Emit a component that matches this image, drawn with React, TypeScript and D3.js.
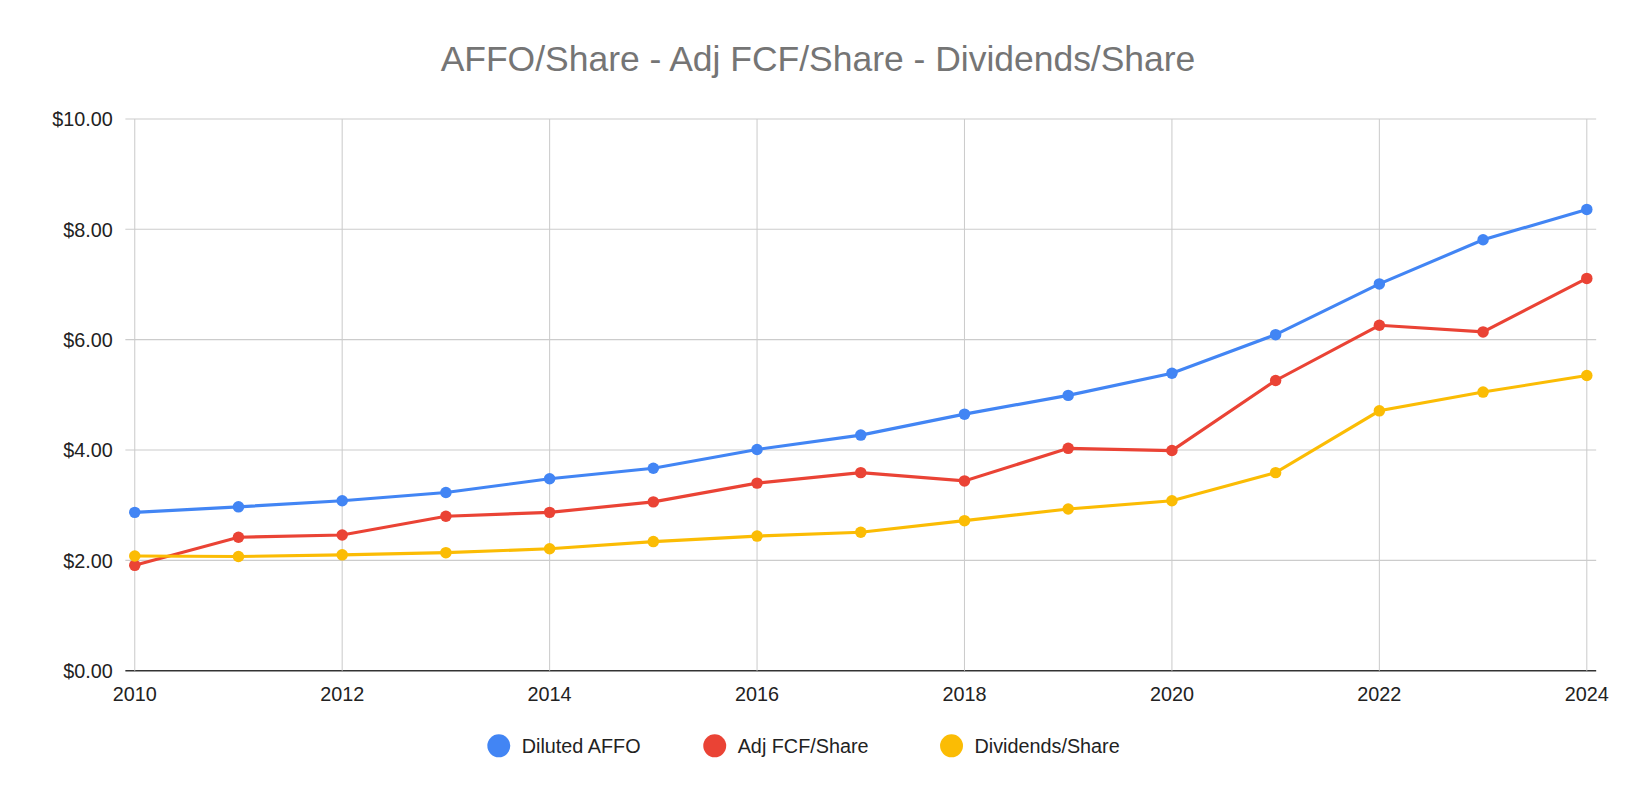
import React from 'react';
import * as d3 from 'd3';

const years = [2010, 2011, 2012, 2013, 2014, 2015, 2016, 2017, 2018, 2019, 2020, 2021, 2022, 2023, 2024];
const affo = [2.87, 2.97, 3.08, 3.23, 3.48, 3.67, 4.01, 4.27, 4.65, 4.99, 5.39, 6.09, 7.01, 7.81, 8.36];
const fcf = [1.91, 2.42, 2.46, 2.8, 2.87, 3.06, 3.4, 3.59, 3.44, 4.03, 3.99, 5.26, 6.26, 6.14, 7.11];
const divs = [2.08, 2.07, 2.1, 2.14, 2.21, 2.34, 2.44, 2.51, 2.72, 2.93, 3.08, 3.59, 4.71, 5.05, 5.35];
const yTicks = [0, 2, 4, 6, 8, 10];
const xTicks = [2010, 2012, 2014, 2016, 2018, 2020, 2022, 2024];

const series = [
  { name: 'Diluted AFFO', values: affo, color: '#4285f4' },
  { name: 'Adj FCF/Share', values: fcf, color: '#ea4335' },
  { name: 'Dividends/Share', values: divs, color: '#fbbc04' },
];

const W = 1636, H = 798;
const font = 'Arial, "Liberation Sans", sans-serif';

export default function App() {
  // layout measured on a 1568-wide copy of the reference, scaled through viewBox
  const x = d3.scaleLinear().domain([2010, 2024]).range([129, 1521]);
  const y = d3.scaleLinear().domain([0, 10]).range([643, 114]);
  const line = d3.line<number>().x((_, i) => x(years[i])).y(d => y(d));
  const legendX = [478, 685, 912];
  return (
    <svg width={W} height={H} viewBox="0 0 1568 765" style={{ position: 'absolute', left: 0, top: 0, background: '#fff' }} fontFamily={font}>
      <rect width={1568} height={765} fill="#fff" />
      <text x={784} y={68} textAnchor="middle" fontSize={34} fill="#757575">AFFO/Share - Adj FCF/Share - Dividends/Share</text>
      {yTicks.map(t => (
        <g key={t}>
          <line x1={120} x2={1530} y1={y(t)} y2={y(t)} stroke={t === 0 ? '#333' : '#cccccc'} strokeWidth={t === 0 ? 1.5 : 1} />
          <text x={108} y={y(t) + 7} textAnchor="end" fontSize={19} fill="#222">{`$${t.toFixed(2)}`}</text>
        </g>
      ))}
      {xTicks.map(t => (
        <g key={t}>
          <line x1={x(t)} x2={x(t)} y1={114} y2={643} stroke="#cccccc" />
          <text x={x(t)} y={672} textAnchor="middle" fontSize={19} fill="#222">{t}</text>
        </g>
      ))}
      {series.map(s => (
        <g key={s.name}>
          <path d={line(s.values) || ''} fill="none" stroke={s.color} strokeWidth={3} />
          {s.values.map((v, i) => (
            <circle key={i} cx={x(years[i])} cy={y(v)} r={5.5} fill={s.color} />
          ))}
        </g>
      ))}
      {series.map((s, i) => (
        <g key={s.name}>
          <circle cx={legendX[i]} cy={715} r={11} fill={s.color} />
          <text x={legendX[i] + 22} y={722} fontSize={19} fill="#222">{s.name}</text>
        </g>
      ))}
    </svg>
  );
}
